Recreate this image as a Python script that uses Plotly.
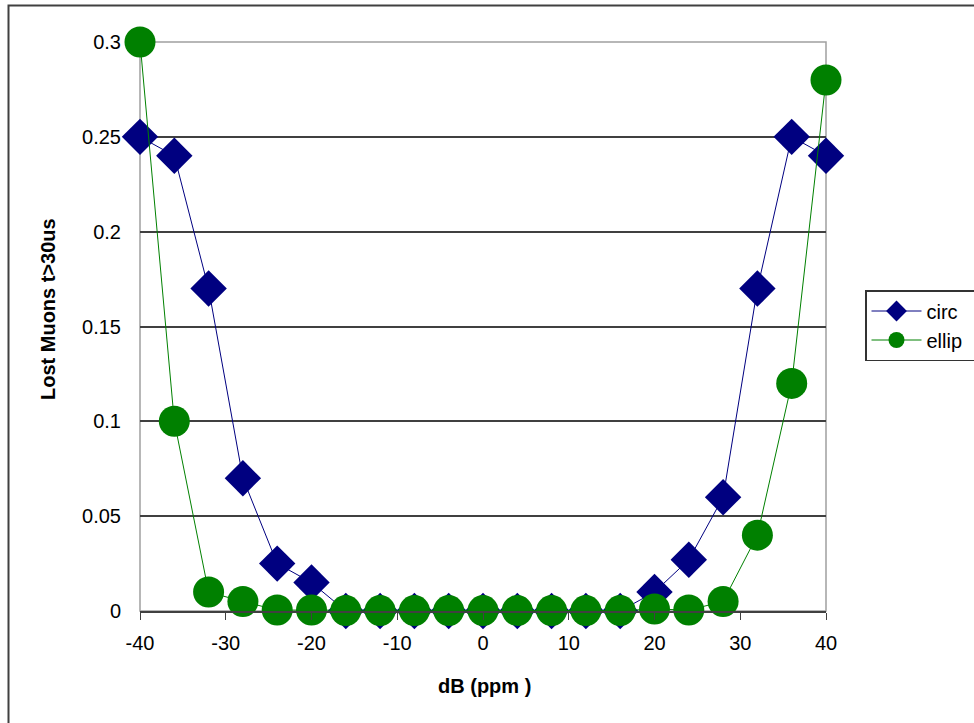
import plotly.graph_objects as go

db = [-40, -36, -32, -28, -24, -20, -16, -12, -8, -4, 0, 4, 8, 12, 16, 20, 24, 28, 32, 36, 40]
circ = [0.25, 0.24, 0.17, 0.07, 0.025, 0.015, 0, 0, 0, 0, 0, 0, 0, 0, 0, 0.01, 0.027, 0.06, 0.17, 0.25, 0.24]
ellip = [0.3, 0.1, 0.01, 0.005, 0.0005, 0.0005, 0.0002, 0.0002, 0.0002, 0.0002, 0.0002, 0.0002, 0.0002, 0.0002, 0.0002, 0.001, 0.0005, 0.005, 0.04, 0.12, 0.28]
x_ticks = [-40, -30, -20, -10, 0, 10, 20, 30, 40]
x_labels = ["-40", "-30", "-20", "-10", "0", "10", "20", "30", "40"]
y_ticks = [0, 0.05, 0.1, 0.15, 0.2, 0.25, 0.3]
y_labels = ["0", "0.05", "0.1", "0.15", "0.2", "0.25", "0.3"]

W, H = 974, 723
L, R, T, B = 140, 826, 42, 611
FONT = "Liberation Sans, Arial, sans-serif"

fig = go.Figure()
fig.add_trace(go.Scatter(x=db, y=circ, name="circ&nbsp;&nbsp;", mode="lines+markers",
                         line=dict(color="#000080", width=1),
                         marker=dict(symbol="diamond", size=28, color="#000080"),
                         cliponaxis=False))
fig.add_trace(go.Scatter(x=db, y=ellip, name="ellip", mode="lines+markers",
                         line=dict(color="#008000", width=1),
                         marker=dict(symbol="circle", size=31, color="#008000"),
                         cliponaxis=False))

fig.update_layout(
    width=W, height=H,
    margin=dict(l=0, r=0, t=0, b=0, autoexpand=False),
    paper_bgcolor="white", plot_bgcolor="white",
    font=dict(family=FONT, size=20, color="black"),
    xaxis=dict(domain=[L / W, R / W], range=[-40, 40], tickvals=x_ticks, ticktext=x_labels,
               showgrid=False, zeroline=False, showline=True, linecolor="#404040",
               linewidth=1.5, ticks="outside", ticklen=7, tickcolor="#404040",
               ticklabelstandoff=6, automargin=False),
    yaxis=dict(domain=[1 - B / H, 1 - T / H], range=[0, 0.3], tickvals=y_ticks,
               ticktext=y_labels, showgrid=True, gridcolor="#404040", gridwidth=1.5,
               zeroline=False, showline=False, ticks="", ticklabelstandoff=18,
               automargin=False),
    yaxis2=dict(overlaying="y", anchor="free", position=(L + (R - L) / 2) / W,
                range=[0, 0.3], tickvals=y_ticks, showticklabels=False,
                showgrid=False, zeroline=False, showline=True, linecolor="#202020",
                linewidth=1.5, ticks="outside", ticklen=6, tickcolor="#202020",
                automargin=False),
    legend=dict(x=865 / W, y=1 - 290 / H, xanchor="left", yanchor="top",
                bordercolor="#333333", borderwidth=1.5, bgcolor="white",
                itemsizing="trace", font=dict(size=20), tracegroupgap=8,
                itemwidth=50),
    showlegend=True,
)

# plot area border (grey) between grid and traces
fig.add_shape(type="rect", xref="paper", yref="paper",
              x0=L / W, x1=R / W, y0=1 - B / H, y1=1 - T / H,
              line=dict(color="#a0a0a0", width=1.5), layer="between")
# outer chart border
fig.add_shape(type="rect", xref="paper", yref="paper",
              x0=8.5 / W, x1=1.02, y0=-0.02, y1=1 - 5.5 / H,
              line=dict(color="#404040", width=2))

fig.add_annotation(text="<b>dB (ppm )</b>", xref="paper", yref="paper",
                   x=484 / W, y=1 - 686 / H, showarrow=False,
                   xanchor="center", yanchor="middle", font=dict(size=20))
fig.add_annotation(text="<b>Lost Muons t>30us</b>", xref="paper", yref="paper",
                   x=48 / W, y=1 - 309 / H, showarrow=False, textangle=-90,
                   xanchor="center", yanchor="middle", font=dict(size=20))

fig.write_html("out.html", config={"displayModeBar": False},
               post_script="document.body.style.margin='0';document.body.style.padding='0';")
